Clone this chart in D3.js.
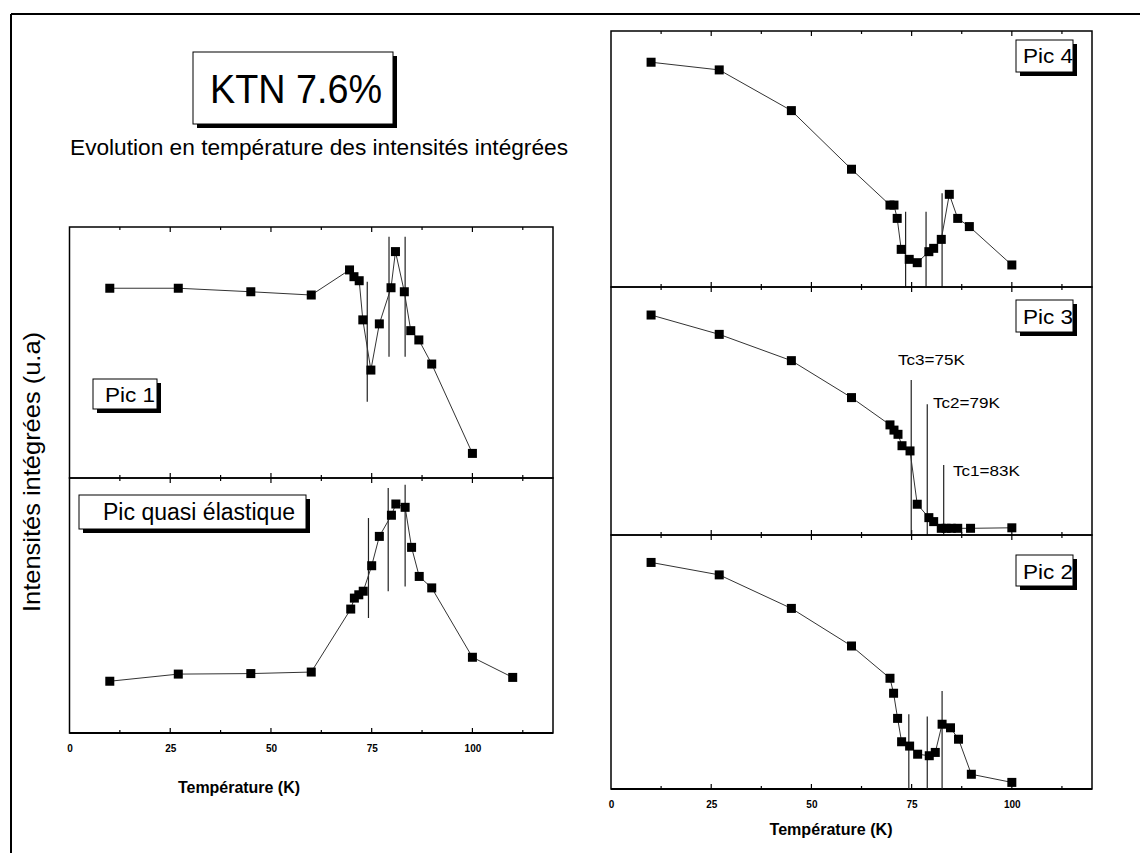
<!DOCTYPE html>
<html>
<head>
<meta charset="utf-8">
<script src="https://cdn.jsdelivr.net/npm/d3@7"></script>
<style>
html,body{margin:0;padding:0;background:#fff;}
svg{display:block;font-family:"Liberation Sans",Arial,sans-serif;}
</style>
</head>
<body>
<svg id="chart" width="1140" height="853"></svg>
<script>
// ---------- DATA (y in % of panel height) ----------
const xTicks = [0, 25, 50, 75, 100];
const xMinorTicks = [12.5, 37.5, 62.5, 87.5, 112.5];

const tempsPic1 = [10, 27, 45, 60, 69.5, 70.6, 71.9, 72.8, 74.8, 76.9, 79.8, 80.9, 83.1, 84.7, 86.7, 89.9, 100];
const valsPic1  = [75.6, 75.6, 74.2, 72.9, 82.9, 80.2, 78.6, 63.0, 43.0, 61.4, 75.8, 90.2, 74.2, 58.7, 55.0, 45.4, 9.8];
const tcPic1T = [73.9, 79.3, 83.3], tcPic1Top = [78.2, 96.1, 96.1], tcPic1Bot = [30.4, 48.3, 48.3];

const tempsQE = [10, 27, 45, 60, 69.8, 70.7, 71.8, 72.9, 75.0, 76.9, 79.9, 81.0, 83.3, 84.9, 86.8, 89.9, 100, 110];
const valsQE  = [20.3, 23.1, 23.3, 23.9, 48.6, 52.9, 54.2, 55.6, 65.6, 77.1, 85.4, 89.8, 88.5, 72.8, 61.4, 56.9, 29.7, 21.8];
const tcQET = [74.2, 79.1, 83.3], tcQETop = [84.3, 96.1, 97.4], tcQEBot = [45.1, 55.6, 57.5];

const tempsPic4 = [10, 27, 45, 60, 69.6, 70.6, 71.4, 72.4, 74.4, 76.4, 79.3, 80.5, 82.4, 84.4, 86.5, 89.4, 100];
const valsPic4  = [87.8, 84.8, 68.9, 46.0, 32.0, 32.0, 26.8, 14.7, 10.8, 9.5, 13.8, 15.1, 18.6, 36.2, 26.8, 23.6, 8.6];
const tcPic4T = [73.5, 78.6, 82.6], tcPic4Top = [29.4, 29.4, 36.6], tcPic4Bot = [0, 0, 0];

const tempsPic3 = [10, 27, 45, 60, 69.6, 70.6, 71.6, 72.6, 74.6, 76.4, 79.3, 80.5, 82.4, 83.6, 84.9, 86.5, 89.7, 100];
const valsPic3  = [88.7, 80.9, 70.3, 55.4, 44.4, 42.3, 40.6, 36.0, 33.9, 12.4, 7.0, 5.4, 2.7, 2.7, 2.7, 2.7, 2.7, 2.9];
const tcPic3T = [74.9, 78.9, 83.0], tcPic3Top = [62.5, 52.7, 28.2], tcPic3Bot = [0, 0, 0];
const tcLabels = ["Tc3=75K", "Tc2=79K", "Tc1=83K"];

const tempsPic2 = [10, 27, 45, 60, 69.6, 70.5, 71.5, 72.5, 74.5, 76.5, 79.4, 80.9, 82.6, 84.7, 86.7, 89.9, 100];
const valsPic2  = [89.2, 84.3, 71.1, 56.3, 43.6, 37.7, 27.8, 18.6, 16.9, 13.7, 13.1, 14.4, 25.5, 24.1, 19.6, 5.8, 2.6];
const tcPic2T = [74.3, 78.9, 82.6], tcPic2Top = [29.4, 28.5, 38.6], tcPic2Bot = [0, 0, 0];

const titleText = "KTN 7.6%";
const subtitleText = "Evolution en température des intensités intégrées";
const yLabelText = "Intensités intégrées (u.a)";
const xLabelText = "Température (K)";

// ---------- DRAWING ----------
const svg = d3.select("#chart");

// outer frame (left and top edges)
svg.append("line").attr("x1", 11).attr("x2", 11).attr("y1", 14).attr("y2", 853)
  .attr("stroke", "#000").attr("stroke-width", 2);
svg.append("line").attr("x1", 11).attr("x2", 1140).attr("y1", 14).attr("y2", 14)
  .attr("stroke", "#000").attr("stroke-width", 2);

function shadowBox(x, y, w, h) {
  svg.append("rect").attr("x", x + 4).attr("y", y + 4).attr("width", w).attr("height", h).attr("fill", "#000");
  svg.append("rect").attr("x", x).attr("y", y).attr("width", w).attr("height", h)
    .attr("fill", "#fff").attr("stroke", "#000").attr("stroke-width", 1);
}
function label(x, y, txt, size, len, opts = {}) {
  const t = svg.append("text").attr("x", x).attr("y", y).attr("font-size", size).text(txt)
    .attr("fill", "#000");
  if (len) t.attr("textLength", len).attr("lengthAdjust", "spacingAndGlyphs");
  if (opts.anchor) t.attr("text-anchor", opts.anchor);
  if (opts.weight) t.attr("font-weight", opts.weight);
  if (opts.transform) t.attr("transform", opts.transform);
  return t;
}

function panel(p) {
  const x = d3.scaleLinear().domain([0, 120]).range([p.left, p.right]);
  const y = d3.scaleLinear().domain([0, 100]).range([p.bottom, p.top]);
  const g = svg.append("g");
  // frame
  g.append("rect").attr("x", p.left).attr("y", p.top).attr("width", p.right - p.left)
    .attr("height", p.bottom - p.top).attr("fill", "none").attr("stroke", "#000").attr("stroke-width", 1.5);
  // ticks top & bottom (inward)
  const tickG = g.append("g").attr("stroke", "#000").attr("stroke-width", 1.2);
  xTicks.forEach(v => {
    if (v === 0) return;
    tickG.append("line").attr("x1", x(v)).attr("x2", x(v)).attr("y1", p.bottom).attr("y2", p.bottom - 5);
    tickG.append("line").attr("x1", x(v)).attr("x2", x(v)).attr("y1", p.top).attr("y2", p.top + 5);
  });
  xMinorTicks.forEach(v => {
    tickG.append("line").attr("x1", x(v)).attr("x2", x(v)).attr("y1", p.bottom).attr("y2", p.bottom - 3);
    tickG.append("line").attr("x1", x(v)).attr("x2", x(v)).attr("y1", p.top).attr("y2", p.top + 3);
  });
  if (p.axisBottom) {
    g.append("line").attr("x1", p.left).attr("x2", p.right).attr("y1", p.bottom).attr("y2", p.bottom)
      .attr("stroke", "#000").attr("stroke-width", 2.2);
    const ax = d3.axisBottom(x).tickValues(xTicks).tickSize(0).tickPadding(0);
    const axG = g.append("g").attr("transform", `translate(0,${p.bottom + 12})`).call(ax);
    axG.select(".domain").remove();
    axG.selectAll("text").attr("font-size", 10).attr("font-weight", "bold")
      .attr("font-family", "'Liberation Sans',Arial,sans-serif").attr("fill", "#000");
  }
  // Tc vertical lines
  p.tcT.forEach((t, i) => {
    g.append("line").attr("x1", x(t)).attr("x2", x(t)).attr("y1", y(p.tcTop[i])).attr("y2", y(p.tcBot[i]))
      .attr("stroke", "#222").attr("stroke-width", 1.2);
  });
  // connecting line
  const pts = p.temps.map((t, i) => [t, p.vals[i]]);
  g.append("path").datum(pts)
    .attr("d", d3.line().x(d => x(d[0])).y(d => y(d[1])))
    .attr("fill", "none").attr("stroke", "#333").attr("stroke-width", 1);
  // markers
  g.selectAll("rect.m").data(pts).enter().append("rect").attr("class", "m")
    .attr("x", d => x(d[0]) - 4.5).attr("y", d => y(d[1]) - 4.5)
    .attr("width", 9).attr("height", 9).attr("fill", "#000");
  return { x, y };
}

panel({ left: 69.5, right: 553, top: 227, bottom: 478, temps: tempsPic1, vals: valsPic1,
  tcT: tcPic1T, tcTop: tcPic1Top, tcBot: tcPic1Bot });
panel({ left: 69.5, right: 553, top: 478, bottom: 733, temps: tempsQE, vals: valsQE,
  tcT: tcQET, tcTop: tcQETop, tcBot: tcQEBot, axisBottom: true });
panel({ left: 611, right: 1092, top: 31, bottom: 287, temps: tempsPic4, vals: valsPic4,
  tcT: tcPic4T, tcTop: tcPic4Top, tcBot: tcPic4Bot });
panel({ left: 611, right: 1092, top: 287, bottom: 535, temps: tempsPic3, vals: valsPic3,
  tcT: tcPic3T, tcTop: tcPic3Top, tcBot: tcPic3Bot });
panel({ left: 611, right: 1092, top: 535, bottom: 789, temps: tempsPic2, vals: valsPic2,
  tcT: tcPic2T, tcTop: tcPic2Top, tcBot: tcPic2Bot, axisBottom: true });

// Tc labels in Pic 3
const tcLabelPos = [[898, 365], [933, 408], [953, 476]];
tcLabels.forEach((s, i) => label(tcLabelPos[i][0], tcLabelPos[i][1], s, 14, 67));

// title box
shadowBox(193, 52, 200, 72);
label(296, 103, titleText, 41, 172, { anchor: "middle" });
label(70, 155, subtitleText, 22, 498);

// panel label boxes
shadowBox(93, 379, 64, 30);
label(105, 402, "Pic 1", 21, 50);
shadowBox(79, 495, 227, 34);
label(103, 520, "Pic quasi élastique", 23, 192);
shadowBox(1016, 40, 57, 32);
label(1023, 63, "Pic 4", 21, 50);
shadowBox(1016, 300, 57, 32);
label(1023, 324, "Pic 3", 21, 50);
shadowBox(1016, 555, 57, 31);
label(1023, 579, "Pic 2", 21, 50);

// axis titles
label(0, 0, yLabelText, 24, 280, { anchor: "middle", transform: "translate(40,472) rotate(-90)" });
label(239, 793, xLabelText, 16, 122, { anchor: "middle", weight: "bold" });
label(831, 835, xLabelText, 16, 123, { anchor: "middle", weight: "bold" });
</script>
</body>
</html>
